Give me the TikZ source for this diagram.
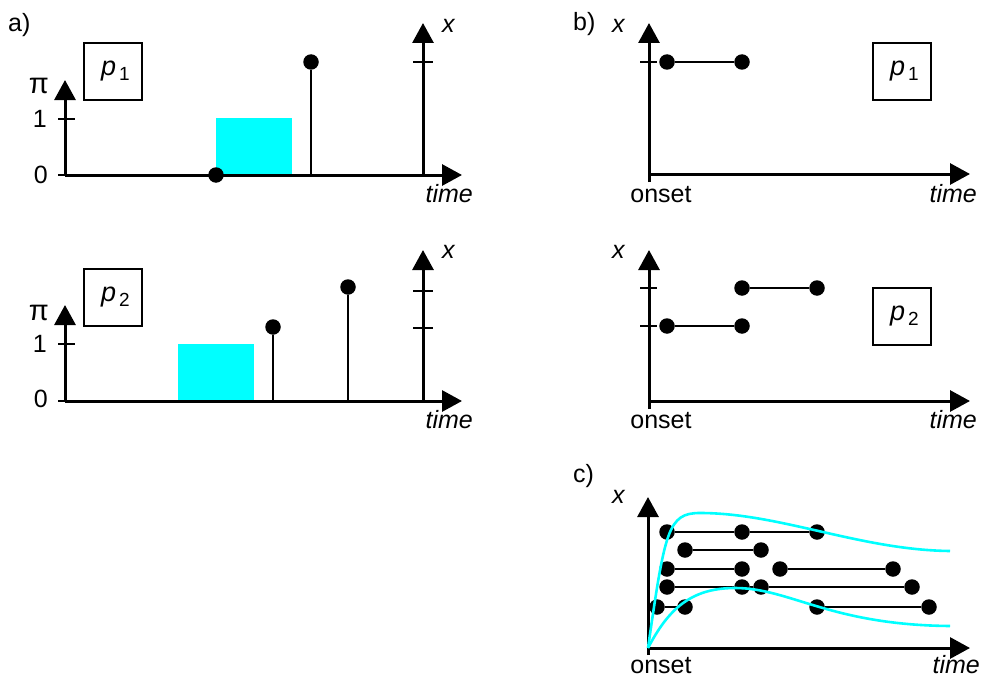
\documentclass[tikz,border=0pt]{standalone}
\usepackage{fontspec}
\setmainfont{Liberation Sans}
\usetikzlibrary{arrows.meta}
\definecolor{cy}{RGB}{0,255,255}
\newcommand\pLab[1]{\hspace*{5pt}{\fontsize{27}{27}\selectfont\itshape p}\kern3pt\raisebox{-5pt}{\fontsize{19}{19}\selectfont #1}}
\tikzset{
 axis/.style={line width=3pt,-{Triangle[width=21pt,length=20pt]}},
 tickmark/.style={line width=1.8pt},
 stem/.style={line width=2.8pt},
 seg/.style={line width=2.8pt},
 thinseg/.style={line width=2pt},
 dot/.style={circle,fill=black,inner sep=0pt,minimum size=15.5pt},
 lbl/.style={inner sep=0pt,font=\fontsize{25}{28}\selectfont},
 ilbl/.style={inner sep=0pt,font=\fontsize{25}{28}\selectfont\itshape},
 pilbl/.style={inner sep=0pt,font=\fontsize{29}{30}\selectfont},
 pbox/.style={draw,line width=2pt,minimum width=58pt,minimum height=57pt,inner sep=0pt},
 curve/.style={draw=cy,line width=2.6pt},
}
\begin{document}
\begin{tikzpicture}[x=1pt,y=-1pt]
\useasboundingbox (0,0) rectangle (983,677);

% ---------- panel a, top ----------
\node[lbl,anchor=base west] (la) at (8,32) {a)};
\fill[cy] (216,118) rectangle (292,175);
\coordinate (oa1) at (65,175);
\coordinate (ya1) at (65,80);
\coordinate (ta1) at (462,175);
\draw[axis] (oa1) -- (ya1);
\draw[axis] (oa1) -- (ta1);
\draw[tickmark] (58,175) -- (oa1);
\draw[tickmark] (58,119) -- (75,119);
\node[pilbl,anchor=base east] (pia1) at (49,93) {π};
\node[lbl,anchor=base east] (onea1) at (47,127) {1};
\node[lbl,anchor=base east] (zeroa1) at (48,183) {0};
\node[ilbl,anchor=base east] (timea1) at (473,202) {time};
\node[dot] (a1d1) at (216,175) {};
\node[dot] (a1d2) at (311,62) {};
\coordinate (a1s2) at (311,175);
\draw[stem] (a1s2) -- (a1d2);
\coordinate (xa1o) at (423,175);
\coordinate (xa1t) at (423,23);
\draw[axis] (xa1o) -- (xa1t);
\draw[tickmark] (413,62) -- (433,62);
\node[ilbl,anchor=base west] (xa1) at (442,33) {x};
\node[pbox] (pa1) at (113,71.5) {\pLab{1}};

% ---------- panel a, bottom ----------
\fill[cy] (178,344) rectangle (254,401);
\coordinate (oa2) at (65,401);
\coordinate (ya2) at (65,305);
\coordinate (ta2) at (462,401);
\draw[axis] (oa2) -- (ya2);
\draw[axis] (oa2) -- (ta2);
\draw[tickmark] (58,401) -- (oa2);
\draw[tickmark] (58,344) -- (75,344);
\node[pilbl,anchor=base east] (pia2) at (49,320) {π};
\node[lbl,anchor=base east] (onea2) at (47,352) {1};
\node[lbl,anchor=base east] (zeroa2) at (48,407) {0};
\node[ilbl,anchor=base east] (timea2) at (473,428) {time};
\node[dot] (a2d1) at (273,327) {};
\node[dot] (a2d2) at (348,287) {};
\coordinate (a2s1) at (273,401);
\coordinate (a2s2) at (348,401);
\draw[stem] (a2s1) -- (a2d1);
\draw[stem] (a2s2) -- (a2d2);
\coordinate (xa2o) at (423,401);
\coordinate (xa2t) at (423,250);
\draw[axis] (xa2o) -- (xa2t);
\draw[tickmark] (413,291) -- (433,291);
\draw[tickmark] (413,328) -- (433,328);
\node[ilbl,anchor=base west] (xa2) at (442,258) {x};
\node[pbox] (pa2) at (113,297) {\pLab{2}};

% ---------- panel b, top ----------
\node[lbl,anchor=base west] (lb) at (573,31) {b)};
\node[ilbl,anchor=base west] (xb1) at (612,33) {x};
\coordinate (ob1) at (649,174);
\coordinate (ob1b) at (649,182);
\coordinate (yb1) at (649,23);
\coordinate (tb1) at (970,174);
\draw[axis] (ob1b) -- (yb1);
\draw[axis] (ob1) -- (tb1);
\draw[tickmark] (640,62) -- (657,62);
\node[dot] (b1d1) at (667,62) {};
\node[dot] (b1d2) at (742,62) {};
\draw[seg] (b1d1) -- (b1d2);
\node[pbox] (pb1) at (902,71.5) {\pLab{1}};
\node[lbl,anchor=base] (onsetb1) at (661,202) {onset};
\node[ilbl,anchor=base east] (timeb1) at (977,202) {time};

% ---------- panel b, bottom ----------
\node[ilbl,anchor=base west] (xb2) at (612,258) {x};
\coordinate (ob2) at (649,401);
\coordinate (ob2b) at (649,409);
\coordinate (yb2) at (649,250);
\coordinate (tb2) at (970,401);
\draw[axis] (ob2b) -- (yb2);
\draw[axis] (ob2) -- (tb2);
\draw[tickmark] (640,288) -- (657,288);
\draw[tickmark] (640,326) -- (657,326);
\node[dot] (b2d1) at (667,326) {};
\node[dot] (b2d2) at (742,326) {};
\node[dot] (b2d3) at (742,288) {};
\node[dot] (b2d4) at (817,288) {};
\draw[seg] (b2d1) -- (b2d2);
\draw[seg] (b2d3) -- (b2d4);
\node[pbox] (pb2) at (902,316.5) {\pLab{2}};
\node[lbl,anchor=base] (onsetb2) at (661,428) {onset};
\node[ilbl,anchor=base east] (timeb2) at (977,428) {time};

% ---------- panel c ----------
\node[lbl,anchor=base west] (lc) at (573,482) {c)};
\node[ilbl,anchor=base west] (xc) at (612,503) {x};
\coordinate (oc) at (648,648);
\coordinate (ocb) at (648,655);
\coordinate (yc) at (648,497);
\coordinate (tc) at (970,648);
\draw[axis] (ocb) -- (yc);
\draw[axis] (oc) -- (tc);
% row 1
\node[dot] (c1a) at (667,532) {};
\node[dot] (c1b) at (742,532) {};
\node[dot] (c1c) at (817,532) {};
\draw[thinseg] (c1a) -- (c1b) -- (c1c);
% row 2
\node[dot] (c2a) at (685,550) {};
\node[dot] (c2b) at (761,550) {};
\draw[thinseg] (c2a) -- (c2b);
% row 3
\node[dot] (c3a) at (667,569) {};
\node[dot] (c3b) at (742,569) {};
\node[dot] (c3c) at (780,569) {};
\node[dot] (c3d) at (893,569) {};
\draw[thinseg] (c3a) -- (c3b);
\draw[thinseg] (c3c) -- (c3d);
% row 4
\node[dot] (c4a) at (667,587) {};
\node[dot] (c4b) at (742,587) {};
\node[dot] (c4c) at (761,587) {};
\node[dot] (c4d) at (912,587) {};
\draw[thinseg] (c4a) -- (c4b) -- (c4c) -- (c4d);
% row 5
\node[dot] (c5a) at (657,607) {};
\node[dot] (c5b) at (685,607) {};
\node[dot] (c5c) at (817,607) {};
\node[dot] (c5d) at (929,607) {};
\draw[thinseg] (c5a) -- (c5b);
\draw[thinseg] (c5c) -- (c5d);
% envelopes
\draw[curve] (oc) .. controls (665,530) and (668,513) .. (700,513)
  .. controls (780,513) and (860,550) .. (950,551);
\draw[curve] (oc) .. controls (668,610) and (690,588) .. (735,588)
  .. controls (790,588) and (830,625) .. (950,626);
\node[lbl,anchor=base] (onsetc) at (661,673) {onset};
\node[ilbl,anchor=base east] (timec) at (980,673) {time};
\end{tikzpicture}
\end{document}
